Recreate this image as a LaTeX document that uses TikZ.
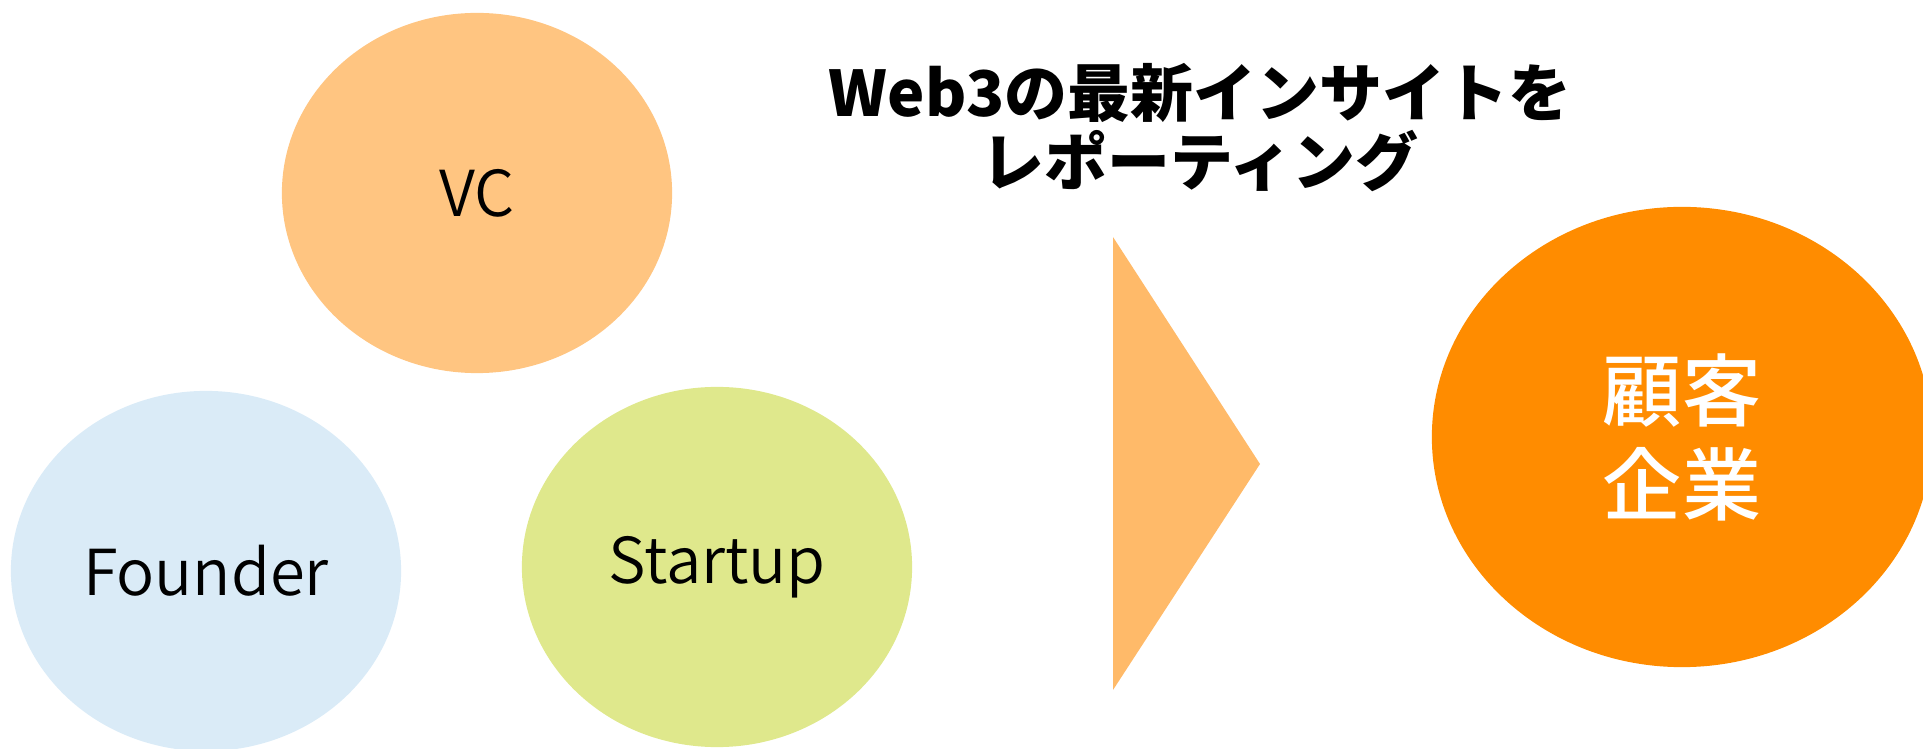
\documentclass[tikz,border=0pt]{standalone}
\usepackage{fontspec}
\setmainfont{Noto Sans CJK JP}
\newfontfamily\labelfont{Noto Sans CJK JP DemiLight}
\newfontfamily\clientfont{Noto Sans CJK JP Medium}
\usetikzlibrary{shapes.geometric}
\definecolor{vcorange}{HTML}{FFC581}
\definecolor{founderblue}{HTML}{DAEBF7}
\definecolor{startupgreen}{HTML}{DFE88C}
\definecolor{arroworange}{HTML}{FFBA69}
\definecolor{clientorange}{HTML}{FF8C00}
\tikzset{
  bubble/.style={ellipse, inner sep=0pt, minimum width=3.9cm, minimum height=3.6cm,
    font=\labelfont\fontsize{18}{22}\selectfont},
}
\begin{document}
\begin{tikzpicture}[x=0.01cm, y=-0.01cm]
    \useasboundingbox (0,0) rectangle (1923,749);
    \clip (0,0) rectangle (1923,749);

    % Draw the three player bubbles
    \node[bubble, fill=vcorange] (vc) at (477,193) {VC};
    \node[bubble, fill=founderblue] (founder) at (206,571) {Founder};
    \node[bubble, fill=startupgreen] (startup) at (717,567) {Startup};

    % Draw the big arrow head
    \coordinate (tritop) at (1113,237);
    \coordinate (tribot) at (1113,690);
    \coordinate (tritip) at (1260,464);
    \fill[arroworange] (tritop) -- (tritip) -- (tribot) -- cycle;

    % Draw the client circle
    \node[ellipse, fill=clientorange, inner sep=0pt, minimum width=5cm, minimum height=4.6cm,
      text=white, align=center, font=\clientfont\fontsize{22.5}{26.7}\selectfont] (client) at (1682,437) {顧客\\企業};

    % Title over the arrow
    \node[align=center, font=\bfseries\fontsize{17.9}{19.6}\selectfont] (title) at (1200,128)
      {Web3の最新インサイトを\\レポーティング};
\end{tikzpicture}
\end{document}
